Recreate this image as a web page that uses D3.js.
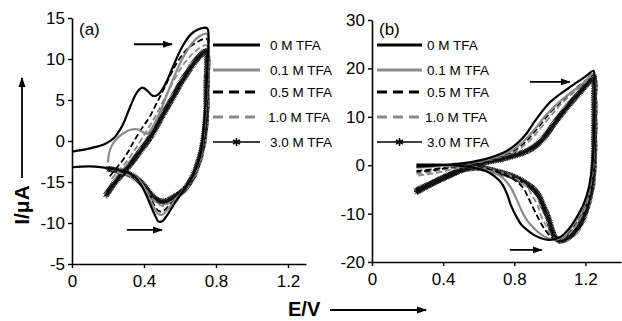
<!DOCTYPE html>
<html>
<head>
<meta charset="utf-8">
<script src="https://cdn.jsdelivr.net/npm/d3@7"></script>
<style>
  body { margin: 0; background: #fff; }
  svg { display: block; }
  text { font-family: Arial, "Liberation Sans", sans-serif; }
</style>
</head>
<body>
<div id="chart"></div>
<script>
const W = 622, H = 321;

const seriesNames = ['0 M TFA', '0.1 M TFA', '0.5 M TFA', '1.0 M TFA', '3.0 M TFA'];
const xTicks = [0, 0.4, 0.8, 1.2];
const xTickLabels = ['0', '0.4', '0.8', '1.2'];
const aYTicks = [15, 10, 5, 0, -5, -10, -15];
const aYTickLabels = ['15', '10', '5', '0', '-15', '-10', '-5'];
const bYTicks = [30, 20, 10, 0, -10, -20];
const bYTickLabels = ['30', '20', '10', '0', '-10', '-20'];

// panel (a): [E/V, I/uA]
const a0 = [[0,-1.3],[0.1,-0.9],[0.18,-0.4],[0.23,0.3],[0.28,1.9],[0.32,4.0],[0.36,5.9],[0.39,6.5],[0.42,6.1],[0.45,5.5],[0.48,5.7],[0.52,7.0],[0.56,9.0],[0.61,11.4],[0.66,13.0],[0.70,13.6],[0.745,13.8],[0.755,13.6],
  [0.752,9],[0.74,4],[0.725,0],[0.71,-2],[0.67,-4.3],[0.62,-6.0],[0.57,-7.6],[0.53,-9.0],[0.50,-9.8],[0.48,-9.8],[0.46,-9.0],[0.43,-7.5],[0.40,-6.0],[0.36,-4.6],[0.32,-3.9],[0.27,-3.6],[0.2,-3.3],[0.1,-3.1],[0,-3.2]];
const a1 = [[0.2,-2.6],[0.205,-1.6],[0.22,-0.6],[0.25,0.3],[0.29,1.0],[0.33,1.4],[0.37,1.4],[0.40,1.0],[0.42,0.9],[0.45,1.8],[0.49,3.6],[0.53,5.8],[0.57,8.0],[0.62,10.3],[0.67,12.0],[0.71,12.8],[0.745,13.1],[0.755,12.9],
  [0.752,8.5],[0.74,3.5],[0.725,-0.3],[0.71,-2.2],[0.67,-4.4],[0.62,-6.0],[0.57,-7.3],[0.53,-8.4],[0.50,-9.0],[0.48,-8.9],[0.46,-8.3],[0.43,-7.0],[0.40,-5.6],[0.36,-4.5],[0.32,-3.9],[0.27,-3.6],[0.22,-3.5]];
const a2 = [[0.21,-4.3],[0.25,-3.2],[0.28,-2.4],[0.32,-1.0],[0.35,0.2],[0.39,1.6],[0.43,2.9],[0.47,4.6],[0.51,6.3],[0.55,8.2],[0.59,9.8],[0.64,11.2],[0.69,12.0],[0.745,12.5],[0.755,12.2],
  [0.752,8],[0.74,3],[0.725,-0.5],[0.71,-2.3],[0.67,-4.5],[0.62,-6.1],[0.57,-7.2],[0.53,-8.1],[0.50,-8.6],[0.48,-8.5],[0.46,-7.9],[0.43,-6.8],[0.40,-5.6],[0.36,-4.6],[0.32,-4.0],[0.27,-3.7],[0.22,-3.6]];
const a3 = [[0.22,-4.6],[0.26,-3.6],[0.30,-2.6],[0.34,-1.4],[0.38,0.0],[0.42,1.4],[0.46,2.9],[0.50,4.6],[0.55,6.7],[0.60,8.7],[0.65,10.2],[0.70,11.2],[0.745,11.7],[0.755,11.4],
  [0.752,7.5],[0.74,2.5],[0.725,-0.7],[0.71,-2.4],[0.67,-4.6],[0.62,-6.1],[0.57,-7.1],[0.53,-7.7],[0.50,-7.9],[0.48,-7.7],[0.45,-7.1],[0.42,-6.2],[0.38,-5.2],[0.34,-4.4],[0.29,-4.0],[0.23,-3.8]];
const a4 = [[0.19,-6.6],[0.22,-5.6],[0.26,-4.5],[0.30,-3.5],[0.34,-2.4],[0.38,-1.2],[0.43,0.3],[0.47,1.8],[0.51,3.4],[0.56,5.3],[0.60,6.9],[0.64,8.3],[0.68,9.6],[0.72,10.6],[0.745,11.0],[0.75,10.8],
  [0.748,7],[0.745,3],[0.73,0],[0.71,-2],[0.67,-4.4],[0.62,-6.0],[0.56,-6.9],[0.51,-7.4],[0.46,-7.0],[0.42,-6.0],[0.38,-5.0],[0.34,-4.3],[0.30,-3.9],[0.25,-3.6],[0.20,-3.4]];

// panel (b): [E/V, I/uA]
const b0 = [[0.25,-0.3],[0.35,-0.1],[0.45,0.2],[0.55,0.6],[0.63,1.2],[0.70,2.0],[0.76,3.0],[0.82,4.6],[0.87,6.6],[0.91,8.8],[0.95,10.8],[0.99,12.6],[1.04,14.2],[1.10,15.8],[1.16,17.3],[1.21,18.6],[1.245,19.5],
  [1.25,17],[1.25,10],[1.245,3],[1.235,-1],[1.22,-4.5],[1.19,-8],[1.15,-10.8],[1.11,-13],[1.06,-14.8],[1.01,-15.4],[0.97,-15.3],[0.92,-14.6],[0.88,-13.6],[0.84,-12.3],[0.81,-10.5],[0.78,-8.2],[0.76,-6],[0.73,-3.8],[0.69,-2.3],[0.64,-1.2],[0.57,-0.5],[0.48,-0.1],[0.38,0.1],[0.25,0.1]];
const b1 = [[0.25,-0.5],[0.35,-0.3],[0.45,0.1],[0.55,0.5],[0.63,1.0],[0.70,1.7],[0.77,2.7],[0.83,4.2],[0.88,6.0],[0.93,8.1],[0.97,10.0],[1.02,11.9],[1.07,13.6],[1.13,15.3],[1.19,17.0],[1.245,18.9],
  [1.25,16],[1.25,9],[1.245,2],[1.235,-1.5],[1.22,-5],[1.19,-8.5],[1.15,-11.3],[1.11,-13.4],[1.07,-14.9],[1.03,-15.4],[0.99,-15.1],[0.95,-14.3],[0.91,-13.0],[0.87,-11.3],[0.84,-9.3],[0.81,-6.8],[0.78,-4.6],[0.74,-2.8],[0.69,-1.6],[0.62,-0.8],[0.52,-0.3],[0.40,-0.2],[0.25,-0.3]];
const b2 = [[0.25,-1.2],[0.35,-0.8],[0.45,-0.2],[0.55,0.4],[0.64,1.0],[0.72,1.8],[0.79,2.9],[0.85,4.4],[0.90,6.3],[0.95,8.5],[0.99,10.4],[1.04,12.3],[1.10,14.4],[1.16,16.3],[1.21,17.7],[1.245,18.6],
  [1.25,15],[1.25,8],[1.245,1],[1.23,-3],[1.21,-6.5],[1.18,-9.5],[1.14,-12.2],[1.10,-14.0],[1.06,-15.1],[1.03,-15.3],[1.0,-14.6],[0.97,-13.2],[0.94,-11.3],[0.91,-9.1],[0.88,-6.8],[0.85,-4.7],[0.80,-3.0],[0.74,-1.8],[0.66,-0.9],[0.56,-0.3],[0.45,-0.5],[0.35,-1.0],[0.25,-1.4]];
const b3 = [[0.25,-1.8],[0.35,-1.2],[0.45,-0.4],[0.55,0.3],[0.65,1.0],[0.73,1.8],[0.80,2.8],[0.86,4.2],[0.91,6.0],[0.96,8.2],[1.01,10.4],[1.06,12.5],[1.12,14.6],[1.18,16.5],[1.245,18.4],
  [1.25,14],[1.25,7],[1.245,0],[1.23,-4],[1.21,-7.5],[1.18,-10.3],[1.14,-12.8],[1.10,-14.4],[1.06,-15.3],[1.03,-15.2],[1.0,-14.2],[0.98,-12.6],[0.95,-10.4],[0.93,-8.2],[0.90,-6.2],[0.87,-4.4],[0.82,-3.0],[0.76,-1.9],[0.67,-0.9],[0.57,-0.3],[0.46,-0.8],[0.36,-1.6],[0.25,-2.2]];
const b4 = [[0.25,-5.2],[0.31,-4.2],[0.38,-3.0],[0.45,-1.8],[0.52,-0.7],[0.59,0.1],[0.66,0.8],[0.73,1.3],[0.79,1.9],[0.85,2.6],[0.90,3.5],[0.95,5.0],[0.99,6.8],[1.03,8.9],[1.07,10.8],[1.11,12.6],[1.15,14.3],[1.19,16.0],[1.22,17.3],[1.245,18.4],
  [1.25,14],[1.25,6],[1.245,-1],[1.235,-4.5],[1.21,-8.5],[1.18,-11.5],[1.14,-13.8],[1.10,-15.0],[1.06,-15.6],[1.03,-15.0],[1.01,-13.2],[0.99,-10.8],[0.96,-8.2],[0.94,-6.4],[0.91,-5.0],[0.86,-3.6],[0.79,-2.3],[0.70,-1.3],[0.60,-0.5],[0.52,-0.8],[0.45,-1.8],[0.38,-3.0],[0.31,-4.3],[0.25,-5.6]];

const GRAY = '#8a8a8a';
const styles = [
  { color: '#000', width: 2.2, dash: null, legendWidth: 3 },
  { color: GRAY, width: 2.2, dash: null, legendWidth: 3 },
  { color: '#000', width: 1.8, dash: '6 3', legendWidth: 3, legendDash: '10 6' },
  { color: GRAY, width: 1.8, dash: '6 3', legendWidth: 3, legendDash: '10 6' },
  { color: '#000', width: 2.4, dash: null, legendWidth: 1.5, star: true }
];

const panels = [
  {
    label: '(a)', series: [a0, a1, a2, a3, a4],
    xDomain: [0, 1.3], xRange: [72, 306],
    yDomain: [-15, 15], yRange: [264, 18],
    yTicks: aYTicks, yTickLabels: aYTickLabels,
    labelPos: [79, 35],
    legend: { x1: 213, x2: 260, tx: 270, rows: [45, 70, 92, 117, 142] },
    arrows: [[0.344, 0.555, 11.8], [0.305, 0.5, -10.85]]
  },
  {
    label: '(b)', series: [b0, b1, b2, b3, b4],
    xDomain: [0, 1.4], xRange: [372, 621],
    yDomain: [-20, 30], yRange: [262, 20],
    yTicks: bYTicks, yTickLabels: bYTickLabels,
    labelPos: [379, 35],
    legend: { x1: 377, x2: 422, tx: 427, rows: [45, 70, 92, 117, 142] },
    arrows: [[0.888, 1.112, 17.2], [0.775, 0.955, -17.5]]
  }
];

const svg = d3.select('#chart').append('svg')
  .attr('width', W).attr('height', H);

const defs = svg.append('defs');
defs.append('marker')
  .attr('id', 'arrowhead')
  .attr('viewBox', '0 0 10 10')
  .attr('refX', 9).attr('refY', 5)
  .attr('markerWidth', 10).attr('markerHeight', 10)
  .attr('markerUnits', 'userSpaceOnUse')
  .attr('orient', 'auto')
  .append('path')
  .attr('d', 'M0,1.5 L10,5 L0,8.5 Z')
  .attr('fill', '#000');

const starType = d3.symbolAsterisk || d3.symbolCross;
const starSymbol = d3.symbol().type(starType).size(30);

// asterisk markers sampled along the drawn path give the fuzzy band look
function starAlong(g, pathNode, step) {
  const len = pathNode.getTotalLength();
  for (let s = 0; s <= len; s += step) {
    const pt = pathNode.getPointAtLength(s);
    g.append('path')
      .attr('d', starSymbol)
      .attr('transform', `translate(${pt.x},${pt.y}) rotate(${(s * 37) % 60})`)
      .attr('fill', 'none')
      .attr('stroke', '#111')
      .attr('stroke-width', 0.9);
  }
}

function drawPanel(p) {
  const x = d3.scaleLinear().domain(p.xDomain).range(p.xRange);
  const y = d3.scaleLinear().domain(p.yDomain).range(p.yRange);
  const g = svg.append('g');

  const line = d3.line()
    .x(d => x(d[0]))
    .y(d => y(d[1]))
    .curve(d3.curveCatmullRom.alpha(0.5));

  // starred series at the back, the rest on top
  const order = [4, 3, 2, 1, 0];
  order.forEach(i => {
    const st = styles[i];
    const path = g.append('path')
      .datum(p.series[i])
      .attr('d', line)
      .attr('fill', 'none')
      .attr('stroke', st.color)
      .attr('stroke-width', st.width)
      .attr('stroke-linejoin', 'round');
    if (st.dash) path.attr('stroke-dasharray', st.dash);
    if (st.star) starAlong(g, path.node(), 1.5);
  });

  // axes
  const xAxis = d3.axisBottom(x)
    .tickValues(xTicks)
    .tickFormat((d, i) => xTickLabels[i])
    .tickSizeInner(4).tickSizeOuter(0).tickPadding(7);
  const yAxis = d3.axisLeft(y)
    .tickValues(p.yTicks)
    .tickFormat((d, i) => p.yTickLabels[i])
    .tickSizeInner(4).tickSizeOuter(0).tickPadding(3);

  const gx = g.append('g').attr('transform', `translate(0,${p.yRange[0]})`).call(xAxis);
  const gy = g.append('g').attr('transform', `translate(${p.xRange[0]},0)`).call(yAxis);
  [gx, gy].forEach(ax => {
    ax.select('.domain').attr('stroke-width', 1.6);
    ax.selectAll('.tick line').attr('stroke-width', 1.4);
    ax.selectAll('.tick text')
      .attr('font-size', 17)
      .attr('font-family', 'Arial, "Liberation Sans", sans-serif')
      .attr('fill', '#000');
  });

  g.append('text')
    .attr('x', p.labelPos[0]).attr('y', p.labelPos[1])
    .attr('font-size', 17)
    .text(p.label);

  // direction arrows
  p.arrows.forEach(a => {
    g.append('line')
      .attr('x1', x(a[0])).attr('x2', x(a[1]))
      .attr('y1', y(a[2])).attr('y2', y(a[2]))
      .attr('stroke', '#000').attr('stroke-width', 1.8)
      .attr('marker-end', 'url(#arrowhead)');
  });

  // legend
  const lg = p.legend;
  seriesNames.forEach((name, i) => {
    const st = styles[i];
    const ly = lg.rows[i];
    const l = g.append('line')
      .attr('x1', lg.x1).attr('x2', lg.x2)
      .attr('y1', ly).attr('y2', ly)
      .attr('stroke', st.color)
      .attr('stroke-width', st.legendWidth);
    if (st.legendDash) l.attr('stroke-dasharray', st.legendDash);
    if (st.star) {
      g.append('path')
        .attr('d', d3.symbol().type(starType).size(45))
        .attr('transform', `translate(${(lg.x1 + lg.x2) / 2},${ly})`)
        .attr('fill', 'none').attr('stroke', '#000').attr('stroke-width', 1.6);
    }
    g.append('text')
      .attr('x', lg.tx - (i === 3 ? 2 : 0)).attr('y', ly)
      .attr('dy', '0.35em')
      .attr('font-size', 13.5)
      .text(name);
  });
}

panels.forEach(drawPanel);

// shared axis titles
svg.append('text')
  .attr('transform', 'translate(29,205) rotate(-90)')
  .attr('text-anchor', 'middle')
  .attr('font-size', 21).attr('font-weight', 'bold')
  .text('I/\u03bcA');
svg.append('line')
  .attr('x1', 22).attr('x2', 22).attr('y1', 178).attr('y2', 78)
  .attr('stroke', '#000').attr('stroke-width', 1.8)
  .attr('marker-end', 'url(#arrowhead)');

svg.append('text')
  .attr('x', 288).attr('y', 316)
  .attr('font-size', 20).attr('font-weight', 'bold')
  .text('E/V');
svg.append('line')
  .attr('x1', 330).attr('x2', 426).attr('y1', 310).attr('y2', 310)
  .attr('stroke', '#000').attr('stroke-width', 1.8)
  .attr('marker-end', 'url(#arrowhead)');
</script>
</body>
</html>
